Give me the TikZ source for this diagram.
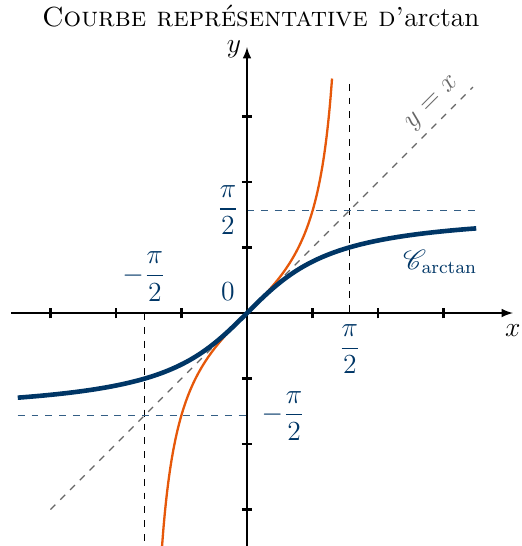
\documentclass[tikz,border=0pt]{standalone}
\usepackage{amsmath}
\usepackage{mathrsfs}
\definecolor{bleufonce}{RGB}{0,54,102}
\definecolor{orangetan}{RGB}{230,88,10}
\tikzset{
  axe/.style={->,>=latex,line width=0.7pt},
  graduation/.style={line width=0.9pt},
  pointille/.style={dashed,line width=0.5pt},
  etiquette/.style={text=bleufonce}
}
\begin{document}
\begin{tikzpicture}[scale=1,font=\large]
\useasboundingbox (-3.771,-3.557) rectangle (4.198,4.779);

% Titre
\node (titre) at (0.21,4.54) {\textsc{Courbe représentative d’}arctan};

% Droite y = x
\draw[pointille,gray!80!black] (-3,-3) -- (3.45,3.45);
\node[text=gray!80!black,rotate=45] (bissectrice) at (2.84,3.2) {$y=x$};

% Asymptotes et repères
\draw[pointille] (1.5708,3.5) -- (1.5708,0);
\draw[pointille] (-1.5708,0) -- (-1.5708,-3.6);
\draw[pointille,bleufonce!80] (0,1.5708) -- (3.5,1.5708);
\draw[pointille,bleufonce!80] (-3.5,-1.5708) -- (0,-1.5708);

% Axes
\coordinate (O) at (0,0);
\coordinate (xmin) at (-3.6,0);
\coordinate (xmax) at (4.06,0);
\coordinate (ymin) at (0,-3.6);
\coordinate (ymax) at (0,4.06);
\draw[axe] (xmin) -- (xmax);
\draw[axe] (ymin) -- (ymax);
\foreach \k in {-3,-2,-1,1,2,3} {
  \draw[graduation] (\k,-0.08) -- (\k,0.08);
  \draw[graduation] (-0.08,\k) -- (0.08,\k);
}
\node (labx) at (4.06,-0.27) {$x$};
\node (laby) at (-0.2,4.02) {$y$};

% Courbe de tan
\draw[orangetan,line width=1pt] plot[domain=-1.3:1.3,samples=120,smooth] (\x,{tan(\x r)});

% Courbe d'arctan
\draw[bleufonce,line width=2pt] plot[domain=-3.5:3.5,samples=120,smooth] (\x,{rad(atan(\x))});

% Etiquettes
\node[etiquette] (zero) at (-0.29,0.32) {$0$};
\node[etiquette,left] (pisurdeuxy) at (0,1.5708) {$\dfrac{\pi}{2}$};
\node[etiquette,right] (mpisurdeuxy) at (0.1,-1.5708) {$-\dfrac{\pi}{2}$};
\node[etiquette,below] (pisurdeuxx) at (1.5708,-0.05) {$\dfrac{\pi}{2}$};
\node[etiquette,above] (mpisurdeuxx) at (-1.5708,0.05) {$-\dfrac{\pi}{2}$};
\node[etiquette] (courbe) at (2.95,0.78) {$\mathscr{C}_{\arctan}$};

\end{tikzpicture}
\end{document}
